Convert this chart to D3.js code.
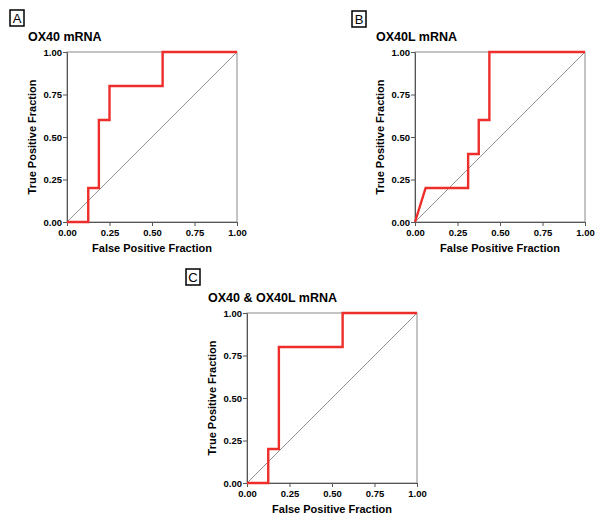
<!DOCTYPE html>
<html>
<head>
<meta charset="utf-8">
<script src="https://cdn.jsdelivr.net/npm/d3@7"></script>
<style>
  body { margin: 0; background: #fff; }
  text { font-family: "Liberation Sans", Arial, sans-serif; }
</style>
</head>
<body>
<svg id="chart" width="600" height="519"></svg>
<script>
// ROC curve points (false positive fraction, true positive fraction)
const rocA = [[0, 0], [0.125, 0], [0.125, 0.2], [0.1875, 0.2], [0.1875, 0.6], [0.25, 0.6], [0.25, 0.8], [0.5625, 0.8], [0.5625, 1], [1, 1]];
const rocB = [[0, 0], [0.0625, 0.2], [0.3125, 0.2], [0.3125, 0.4], [0.375, 0.4], [0.375, 0.6], [0.4375, 0.6], [0.4375, 1], [1, 1]];
const rocC = [[0, 0], [0.125, 0], [0.125, 0.2], [0.1875, 0.2], [0.1875, 0.8], [0.5625, 0.8], [0.5625, 1], [1, 1]];
const titles = ["OX40 mRNA", "OX40L mRNA", "OX40 & OX40L mRNA"];
const letters = ["A", "B", "C"];
const ticks = [0, 0.25, 0.5, 0.75, 1];

const svg = d3.select("#chart");

// layout of each panel: plot origin and label box
const panels = [
  { data: rocA, left: 67, top: 52, box: [10, 10] },
  { data: rocB, left: 415, top: 52, box: [352, 11] },
  { data: rocC, left: 247, top: 313, box: [186, 269] }
];
const size = 170;

panels.forEach((p, i) => {
  const x = d3.scaleLinear().domain([0, 1]).range([p.left, p.left + size]);
  const y = d3.scaleLinear().domain([0, 1]).range([p.top + size, p.top]);

  // frame
  svg.append("rect")
    .attr("x", x(0)).attr("y", y(1))
    .attr("width", size).attr("height", size)
    .attr("fill", "none")
    .attr("stroke", "#8a8a8a")
    .attr("stroke-width", 1);

  // diagonal reference
  svg.append("line")
    .attr("x1", x(0)).attr("y1", y(0))
    .attr("x2", x(1)).attr("y2", y(1))
    .attr("stroke", "#777")
    .attr("stroke-width", 0.8);

  const fmt = d3.format(".2f");

  const gx = svg.append("g")
    .attr("transform", `translate(0,${y(0)})`)
    .call(d3.axisBottom(x).tickValues(ticks).tickFormat(fmt).tickSize(4).tickSizeOuter(0));
  const gy = svg.append("g")
    .attr("transform", `translate(${x(0)},0)`)
    .call(d3.axisLeft(y).tickValues(ticks).tickFormat(fmt).tickSize(4).tickSizeOuter(0));

  [gx, gy].forEach(g => {
    g.select(".domain").attr("stroke", "#555");
    g.selectAll(".tick line").attr("stroke", "#555");
    g.selectAll(".tick text")
      .attr("fill", "#000")
      .style("font-size", "9.5px")
      .style("font-weight", "bold")
      .style("font-family", "Liberation Sans, Arial, sans-serif");
  });
  gy.selectAll(".tick text").attr("x", -5);

  // ROC curve
  svg.append("path")
    .datum(p.data)
    .attr("fill", "none")
    .attr("stroke", "#ee2e2a")
    .attr("stroke-width", 2.4)
    .attr("stroke-linejoin", "miter")
    .attr("d", d3.line().x(d => x(d[0])).y(d => y(d[1])));

  // title
  svg.append("text")
    .attr("x", p.left - 39)
    .attr("y", p.top - 11)
    .attr("font-size", 12.5)
    .attr("font-weight", "bold")
    .text(titles[i]);

  // axis labels
  svg.append("text")
    .attr("x", x(0.5))
    .attr("y", y(0) + 30)
    .attr("text-anchor", "middle")
    .attr("font-size", 11)
    .attr("font-weight", "bold")
    .text("False Positive Fraction");

  svg.append("text")
    .attr("transform", `translate(${p.left - 31},${y(0.5)}) rotate(-90)`)
    .attr("text-anchor", "middle")
    .attr("font-size", 11)
    .attr("font-weight", "bold")
    .text("True Positive Fraction");

  // panel letter box
  svg.append("rect")
    .attr("x", p.box[0]).attr("y", p.box[1])
    .attr("width", 14).attr("height", 16)
    .attr("fill", "none")
    .attr("stroke", "#000")
    .attr("stroke-width", 1.5);
  svg.append("text")
    .attr("x", p.box[0] + 7)
    .attr("y", p.box[1] + 13)
    .attr("text-anchor", "middle")
    .attr("font-size", 13)
    .text(letters[i]);
});
</script>
</body>
</html>
